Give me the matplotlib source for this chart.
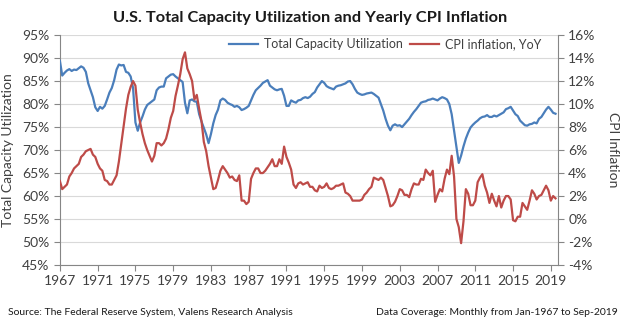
import pandas as pd
import matplotlib
matplotlib.use('Agg')
import matplotlib.pyplot as plt
from matplotlib.ticker import FuncFormatter

plt.rcParams['font.family'] = ['Lato', 'DejaVu Sans']

# quarterly samples (Jan/Apr/Jul/Oct)
capacity_util = [
    89.4, 86.2, 86.8, 87.3,  87.6, 87.2, 87.5, 87.4,  87.8, 88.2, 87.9, 87.0,
    84.5, 83.0, 81.5, 79.3,  78.5, 79.4, 79.0, 79.6,  81.0, 82.5, 83.5, 85.2,
    87.5, 88.6, 88.4, 88.5,  87.0, 86.8, 86.0, 83.5,  76.0, 74.2, 76.0, 77.3,
    78.8, 79.8, 80.2, 80.6,  81.0, 83.0, 83.6, 83.8,  83.8, 85.6, 86.0, 86.4,
    86.5, 86.0, 85.6, 85.2,  84.8, 80.3, 78.0, 80.8,  81.0, 80.6, 80.5, 77.8,
    76.2, 74.8, 73.4, 71.5,  73.5, 75.8, 77.6, 78.8,  80.8, 81.2, 80.9, 80.3,
    80.0, 79.8, 79.4, 79.6,  79.3, 78.7, 78.9, 79.2,  79.6, 80.8, 82.0, 83.0,
    83.5, 84.0, 84.6, 84.9,  85.2, 84.0, 83.6, 83.2,  83.0, 83.2, 83.3, 81.8,
    79.6, 79.6, 80.8, 80.5,  80.3, 80.8, 80.9, 81.3,  81.5, 81.3, 81.6, 82.2,
    82.6, 83.6, 84.3, 85.0,  84.6, 83.9, 83.6, 83.4,  83.2, 83.8, 84.0, 84.1,
    84.3, 84.5, 84.9, 85.0,  84.3, 83.3, 82.5, 82.2,  82.0, 82.1, 82.3, 82.4,
    82.5, 82.2, 81.8, 81.4,  80.0, 78.6, 76.8, 75.3,  74.3, 75.3, 75.6, 75.3,
    75.4, 75.0, 75.6, 76.2,  76.8, 77.6, 78.3, 78.9,  79.6, 80.3, 80.5, 80.6,
    80.9, 81.0, 81.2, 81.0,  80.8, 81.2, 81.5, 81.3,  81.0, 80.0, 77.8, 74.2,
    70.6, 67.2, 68.8, 70.8,  72.5, 73.8, 74.9, 75.5,  76.0, 76.4, 76.9, 77.2,
    77.3, 77.6, 77.2, 77.2,  77.5, 77.3, 77.6, 77.9,  78.2, 78.9, 79.1, 79.4,
    78.6, 77.8, 77.4, 76.4,  75.9, 75.4, 75.3, 75.6,  75.7, 76.0, 75.8, 76.8,
    77.2, 78.0, 78.8, 79.4,  78.8, 78.1, 77.9,
]

cpi_yoy = [
    3.3, 2.6, 2.8, 3.0,  3.7, 4.0, 4.4, 4.6,  4.8, 5.4, 5.6, 5.9,
    6.0, 6.1, 5.6, 5.4,  4.8, 4.4, 4.2, 3.4,  3.3, 3.0, 3.0, 3.4,
    3.8, 5.0, 6.5, 8.0,  9.6, 10.8, 11.5, 12.0,  11.6, 9.5, 8.4, 7.4,
    6.6, 6.0, 5.5, 5.0,  5.5, 6.6, 6.6, 6.4,  6.6, 7.0, 7.8, 8.8,
    9.4, 10.7, 11.6, 12.6,  13.9, 14.5, 13.1, 12.6,  12.0, 10.4, 10.8, 9.6,
    8.5, 6.7, 5.9, 4.6,  3.6, 2.6, 2.7, 3.4,  4.2, 4.6, 4.3, 4.0,
    3.6, 3.7, 3.4, 3.3,  3.8, 1.6, 1.6, 1.3,  1.5, 3.5, 4.0, 4.4,
    4.4, 4.0, 4.0, 4.2,  4.5, 4.8, 5.2, 4.6,  4.6, 5.2, 4.8, 6.3,
    5.4, 4.9, 4.3, 3.0,  2.7, 3.1, 3.2, 3.0,  3.1, 3.2, 2.8, 2.8,
    2.5, 2.4, 2.9, 2.7,  2.8, 3.1, 2.7, 2.6,  2.7, 2.9, 2.9, 3.0,
    3.1, 2.3, 2.2, 2.0,  1.6, 1.6, 1.6, 1.6,  1.7, 2.1, 2.3, 2.6,
    2.8, 3.6, 3.5, 3.4,  3.6, 3.4, 2.7, 2.0,  1.1, 1.2, 1.5, 2.0,
    2.6, 2.5, 2.1, 2.1,  1.9, 2.6, 3.1, 3.0,  3.0, 3.5, 3.4, 4.3,
    4.0, 3.8, 4.2, 1.5,  2.1, 2.6, 2.4, 3.5,  4.3, 3.9, 5.5, 3.7,
    0.0, -0.7, -2.1, -0.2,  2.6, 2.2, 1.2, 1.2,  1.6, 3.2, 3.6, 3.9,
    2.9, 2.3, 1.4, 2.2,  1.6, 1.1, 2.0, 1.0,  1.6, 2.0, 2.0, 1.7,
    -0.1, -0.2, 0.2, 0.2,  1.4, 1.1, 0.8, 1.6,  2.5, 2.2, 1.7, 2.0,
    2.1, 2.5, 2.9, 2.5,  1.6, 2.0, 1.8,
]

dates = pd.date_range('1967-01-01', periods=len(capacity_util), freq='QS')
tick_years = list(range(1967, 2020, 4))

BLUE = '#4a7ebb'
RED = '#be4b48'
GREY = '#868686'
TXT = '#404040'

fig = plt.figure(figsize=(6.24, 3.22), dpi=100)
ax1 = fig.add_axes([0.096, 0.177, 0.798, 0.714])
ax2 = ax1.twinx()

ax1.plot(dates, capacity_util, color=BLUE, lw=1.6, label='Total Capacity Utilization', zorder=3)
ax2.plot(dates, cpi_yoy, color=RED, lw=1.6, label='CPI inflation, YoY', zorder=3)

ax1.set_ylim(45, 95)
ax1.set_yticks(range(45, 96, 5))
ax2.set_ylim(-4, 16)
ax2.set_yticks(range(-4, 17, 2))
ax1.yaxis.set_major_formatter(FuncFormatter(lambda v, p: f'{v:.0f}%'))
ax2.yaxis.set_major_formatter(FuncFormatter(lambda v, p: f'{v:.0f}%'))

ax1.set_xlim(pd.Timestamp('1967-01-01'), pd.Timestamp('2019-09-30'))
ax1.set_xticks([pd.Timestamp(f'{y}-01-01') for y in tick_years])
ax1.set_xticklabels([str(y) for y in tick_years])

ax1.grid(axis='y', color='#d9d9d9', lw=0.8, zorder=0)
ax1.set_axisbelow(True)

for ax in (ax1, ax2):
    ax.spines['top'].set_visible(False)
    for s in ('left', 'right', 'bottom'):
        ax.spines[s].set_color(GREY)
    ax.tick_params(colors=GREY, labelcolor=TXT, labelsize=10, length=4, width=0.8)
ax2.spines['left'].set_visible(False)
ax1.spines['right'].set_visible(False)
ax2.spines['bottom'].set_visible(False)

ax1.set_ylabel('Total Capacity Utilization', fontsize=10, color=TXT, labelpad=6)
ax2.set_ylabel('CPI Inflation', fontsize=10, color=TXT, rotation=270, labelpad=17)

h1, l1 = ax1.get_legend_handles_labels()
h2, l2 = ax2.get_legend_handles_labels()
ax2.legend(h1 + h2, l1 + l2, loc='upper right', ncol=2, frameon=False, fontsize=9,
           handlelength=2.3, columnspacing=0.6, handletextpad=0.5,
           bbox_to_anchor=(0.99, 1.035), labelcolor=TXT)

fig.text(0.497, 0.945, 'U.S. Total Capacity Utilization and Yearly CPI Inflation',
         ha='center', va='center', fontsize=11.8, fontweight='bold', color='#1a1a1a')
fig.text(0.013, 0.03, 'Source: The Federal Reserve System, Valens Research Analysis',
         ha='left', va='center', fontsize=7.5, color='#1a1a1a')
fig.text(0.99, 0.03, 'Data Coverage: Monthly from Jan-1967 to Sep-2019',
         ha='right', va='center', fontsize=7.5, color='#1a1a1a')

fig.savefig('out.png', dpi=100)
